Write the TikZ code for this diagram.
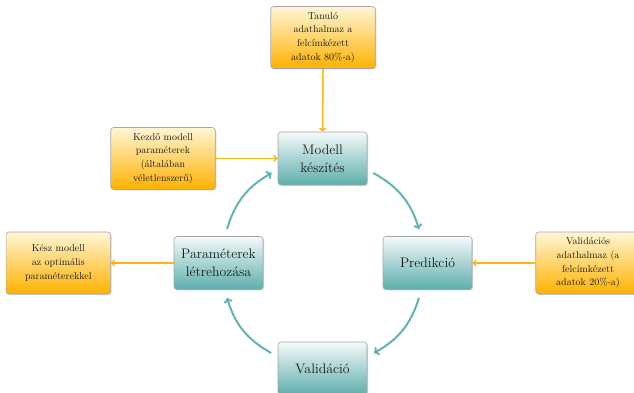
\documentclass[tikz,border=0pt]{standalone}
\usepackage{fontspec}
\usetikzlibrary{shadows,arrows.meta}
\definecolor{tealbot}{RGB}{92,174,172}
\definecolor{tealtop}{RGB}{244,250,250}
\definecolor{orbot}{RGB}{255,178,0}
\definecolor{ortop}{RGB}{255,246,214}
\definecolor{orline}{RGB}{252,180,20}
\definecolor{tealline}{RGB}{96,180,178}
\tikzset{
  module/.style={draw=gray!70, line width=0.6pt, rounded corners=3pt,
    top color=tealtop, bottom color=tealbot,
    minimum width=89pt, minimum height=53pt, align=center,
    font=\fontsize{13.8}{18}\selectfont, text=black!90,
    drop shadow={shadow xshift=1pt, shadow yshift=-1pt, opacity=0.35}},
  addbox/.style={draw=gray!70, line width=0.6pt, rounded corners=3pt,
    top color=ortop, bottom color=orbot,
    minimum width=104.5pt, minimum height=62pt, align=center,
    font=\fontsize{10}{13.6}\selectfont, text=black!90,
    drop shadow={shadow xshift=1pt, shadow yshift=-1pt, opacity=0.35}},
  orarrow/.style={draw=orline, line width=1.5pt, -{To[length=4pt,width=7pt]}},
  cycarrow/.style={draw=tealline, line width=2pt, -{To[length=5pt,width=9pt]}}
}
\begin{document}
\begin{tikzpicture}[x=1pt,y=1pt]
\useasboundingbox (0,0) rectangle (634,393);
% modules
\node[module] (m) at (322.5,234.5) {Modell\\készítés};
\node[module] (p) at (427.5,130) {Predikció};
\node[module] (v) at (322.5,24.5) {Validáció};
\node[module] (pa) at (218.5,130) {Paraméterek\\létrehozása};
% additional boxes
\node[addbox] (t) at (323,355.5) {Tanuló\\adathalmaz a\\felcímkézett\\adatok 80\%-a)};
\node[addbox] (k) at (163,234.5) {Kezdő modell\\paraméterek\\(általában\\véletlenszerű)};
\node[addbox] (kesz) at (58.3,130) {Kész modell\\az optimális\\paraméterekkel};
\node[addbox] (vh) at (588,130) {Validációs\\adathalmaz (a\\felcímkézett\\adatok 20\%-a)};
% orange arrows
\draw[orarrow] (t.south) -- (m.north);
\draw[orarrow] (k.east) -- (m.west);
\draw[orarrow] (pa.west) -- (kesz.east);
\draw[orarrow] (vh.west) -- (p.east);
% cycle arrows
\draw[cycarrow] ([shift={(6,-14.5)}]m.east) to[bend left=22] ([shift={(-8.5,7)}]p.north);
\draw[cycarrow] ([shift={(-8.5,-8)}]p.south) to[bend left=22] ([shift={(6.5,15.5)}]v.east);
\draw[cycarrow] ([shift={(-6.5,15.5)}]v.west) to[bend left=22] ([shift={(8.5,-8)}]pa.south);
\draw[cycarrow] ([shift={(8.5,7)}]pa.north) to[bend left=22] ([shift={(-6,-14.5)}]m.west);
\end{tikzpicture}
\end{document}
